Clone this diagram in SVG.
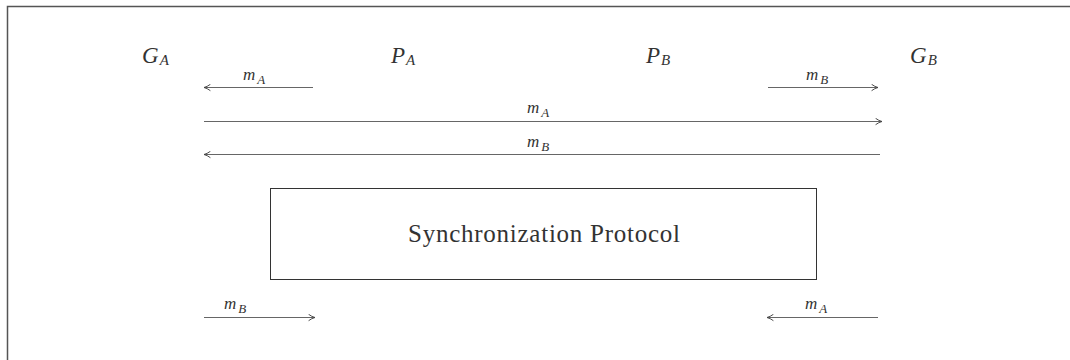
<svg xmlns="http://www.w3.org/2000/svg" width="1070" height="360" viewBox="0 0 1070 360">
<style>
.t{font-family:"Liberation Serif","DejaVu Serif",serif;font-style:italic;fill:#333}
.big{font-size:23px}
.sb{font-size:15px}
.lab{font-size:17px}
.ls{font-size:13px}
.c{stroke:#666;stroke-width:1.2;fill:none}
.box{stroke:#333;stroke-width:1;fill:#fff}
.plain{font-family:"Liberation Serif","DejaVu Serif",serif;font-size:25px;fill:#333}
</style>
<defs>
<marker id="ah" viewBox="0 0 10 10" refX="9" refY="5" markerWidth="8" markerHeight="8" markerUnits="userSpaceOnUse" orient="auto">
<path d="M1,1 Q5,4 9,5 Q5,6 1,9" fill="none" stroke="#444" stroke-width="1.2"/>
</marker>
</defs>
<rect width="1070" height="360" fill="#fff"/>
<path d="M7.5,360 V6.5 H1070" stroke="#555" stroke-width="1.5" fill="none"/>
<g id="GA"><text class="t big" x="142" y="63">G<tspan class="sb" dx="1" dy="2">A</tspan></text></g>
<g id="PA"><text class="t big" x="391" y="63">P<tspan class="sb" dx="1" dy="2">A</tspan></text></g>
<g id="PB"><text class="t big" x="646" y="63">P<tspan class="sb" dx="1" dy="2">B</tspan></text></g>
<g id="GB"><text class="t big" x="910" y="63">G<tspan class="sb" dx="1" dy="2">B</tspan></text></g>
<g id="sync">
<rect class="box" x="270.5" y="188.5" width="546" height="91"/>
<text class="plain" x="408" y="242" textLength="272" lengthAdjust="spacing">Synchronization Protocol</text>
</g>
<g id="connectors">
<line class="c" x1="313" y1="87.5" x2="204" y2="87.5" marker-end="url(#ah)"/>
<line class="c" x1="768" y1="87.5" x2="878" y2="87.5" marker-end="url(#ah)"/>
<line class="c" x1="204" y1="121.5" x2="882" y2="121.5" marker-end="url(#ah)"/>
<line class="c" x1="880" y1="154.5" x2="204" y2="154.5" marker-end="url(#ah)"/>
<line class="c" x1="204" y1="317.5" x2="315" y2="317.5" marker-end="url(#ah)"/>
<line class="c" x1="878" y1="317.5" x2="767" y2="317.5" marker-end="url(#ah)"/>
<text class="t lab" x="243" y="80">m<tspan class="ls" dx="2" dy="4">A</tspan></text>
<text class="t lab" x="806" y="80">m<tspan class="ls" dx="2" dy="4">B</tspan></text>
<text class="t lab" x="527" y="113">m<tspan class="ls" dx="2" dy="4">A</tspan></text>
<text class="t lab" x="527" y="147">m<tspan class="ls" dx="2" dy="4">B</tspan></text>
<text class="t lab" x="224" y="309">m<tspan class="ls" dx="2" dy="4">B</tspan></text>
<text class="t lab" x="805" y="309">m<tspan class="ls" dx="2" dy="4">A</tspan></text>
</g>
</svg>
